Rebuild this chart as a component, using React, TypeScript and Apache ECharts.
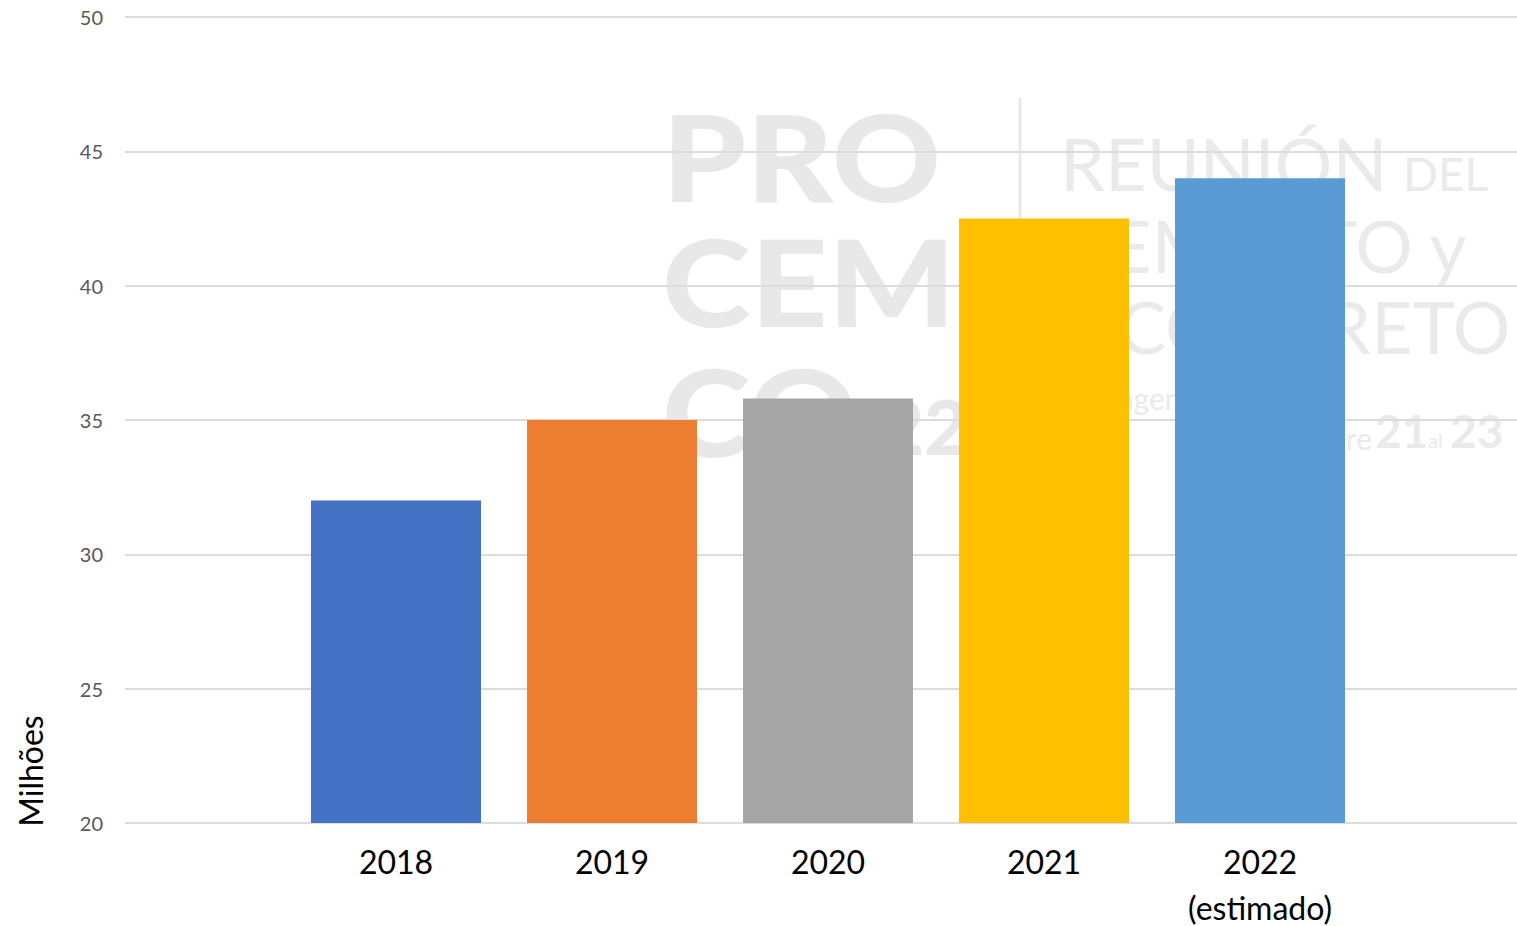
import React, { useEffect, useRef } from "react";
import * as echarts from "echarts";

const categories = ["2018", "2019", "2020", "2021", "2022\n(estimado)"];
const values = [32, 35, 35.8, 42.5, 44];
const barColors = ["#4472C4", "#ED7D31", "#A5A5A5", "#FFC000", "#5B9BD5"];
const yMin = 20;
const yMax = 50;
const yInterval = 5;
const yAxisName = "Milhões";

const FONT = "Lato, 'Open Sans', sans-serif";

export default function App() {
  const ref = useRef<HTMLDivElement>(null);
  useEffect(() => {
    if (!ref.current) return;
    const chart = echarts.init(ref.current, undefined, { renderer: "svg" });
    const wmBold = "#e8e8e8";
    const wmLight = "#eaeaea";
    const wm = (
      text: string,
      x: number,
      y: number,
      size: number,
      weight: number,
      fill: string,
      align = "left",
      scaleX = 1
    ) => ({
      type: "text",
      z: -10,
      silent: true,
      x,
      y,
      scaleX,
      style: {
        text,
        x: 0,
        y: 0,
        fontFamily: FONT,
        fontWeight: weight,
        fontSize: size,
        fill,
        textAlign: align,
        textVerticalAlign: "middle",
      },
    });
    chart.setOption({
      animation: false,
      backgroundColor: "#ffffff",
      textStyle: { fontFamily: FONT },
      grid: [
        { left: 125, right: 0, top: 17, bottom: 103, outerBoundsMode: "none", containLabel: false },
        { left: 288, right: 149, top: 17, bottom: 103, outerBoundsMode: "none", containLabel: false },
      ],
      xAxis: [
        { type: "value", gridIndex: 0, show: false, min: 0, max: 1 },
        {
          type: "category",
          gridIndex: 1,
          data: categories,
          axisLine: { show: false },
          axisTick: { show: false },
          axisLabel: {
            fontFamily: FONT,
            fontSize: 32,
            lineHeight: 46,
            color: "#000000",
            margin: 15,
            interval: 0,
          },
        },
      ],
      yAxis: [
        {
          type: "value",
          gridIndex: 0,
          min: yMin,
          max: yMax,
          interval: yInterval,
          axisLine: { show: false },
          axisTick: { show: false },
          axisLabel: { fontFamily: FONT, fontSize: 20, color: "#595959", margin: 22 },
          splitLine: { lineStyle: { color: "#dcdcdc", width: 2 } },
        },
        {
          type: "value",
          gridIndex: 1,
          min: yMin,
          max: yMax,
          interval: yInterval,
          show: false,
          splitLine: { show: false },
        },
      ],
      graphic: [
        {
          type: "text",
          x: 30,
          y: 771,
          rotation: Math.PI / 2,
          style: {
            text: yAxisName,
            x: 0,
            y: 0,
            fontFamily: FONT,
            fontSize: 32,
            fill: "#000000",
            textAlign: "center",
            textVerticalAlign: "middle",
          },
        },
        // watermark
        wm("PRO", 662, 155, 120, 900, wmBold, "left", 1.12),
        wm("CEM", 662, 280, 120, 900, wmBold, "left", 1.12),
        wm("CO", 662, 410, 120, 900, wmBold, "left", 1.12),
        wm("22", 880, 425, 76, 900, wmBold),
        { type: "line", z: -10, silent: true, shape: { x1: 1020, y1: 98, x2: 1020, y2: 275 }, style: { stroke: wmLight, lineWidth: 3 } },
        wm("REUNIÓN", 1060, 163, 72, 400, wmLight),
        wm("DEL", 1403, 173, 46, 400, wmLight),
        wm("CEMENTO y", 1062, 245, 72, 400, wmLight),
        wm("CONCRETO", 1118, 326, 72, 400, wmLight),
        wm("Cartagena de Indias", 1062, 398, 30, 400, wmLight),
        wm("Octubre", 1372, 438, 30, 400, wmLight, "right"),
        wm("21", 1375, 430, 46, 700, wmLight),
        wm("al", 1428, 440, 20, 400, wmLight),
        wm("23", 1450, 430, 46, 700, wmLight),
      ],
      series: [
        {
          type: "bar",
          xAxisIndex: 1,
          yAxisIndex: 1,
          barWidth: 170,
          data: values.map((v, i) => ({ value: v, itemStyle: { color: barColors[i] } })),
        },
      ],
    });
    return () => chart.dispose();
  }, []);
  return (
    <div
      ref={ref}
      style={{ position: "fixed", left: 0, top: 0, width: 1517, height: 926 }}
    />
  );
}
